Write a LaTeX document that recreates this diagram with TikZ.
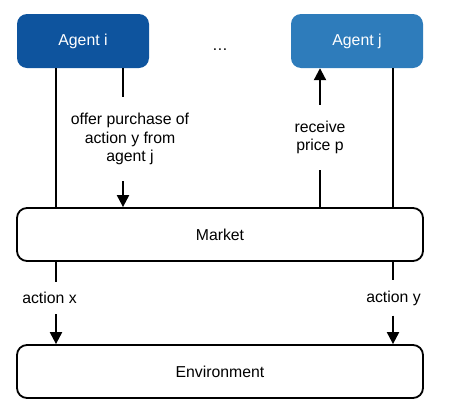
\documentclass[tikz,border=0pt]{standalone}
\usepackage{fontspec}
\setmainfont{Liberation Sans}
\usepackage{tikz}
\usetikzlibrary{arrows.meta,positioning,calc}
\usepackage{xcolor}
\definecolor{deepblue}{RGB}{14,84,158}
\definecolor{skyblue}{RGB}{46,124,187}

\begin{document}
\begin{tikzpicture}[x=1pt,y=-1pt,
        every node/.style={font=\fontsize{15.8}{18.5}\selectfont},
        agentbox/.style={rectangle,rounded corners=10pt,minimum width=132pt,minimum height=54pt,text=white},
        layerbox/.style={rectangle,draw=black,line width=1.8pt,rounded corners=10pt,minimum width=406pt,minimum height=53pt},
        flowlabel/.style={align=center,inner xsep=0pt,inner ysep=16pt},
        link/.style={line width=2.1pt},
        arrowlink/.style={line width=2.1pt,-{Triangle[width=12pt,length=12pt]}}]
        \useasboundingbox (0,0) rectangle (453,418);

        % Agents
        \node[agentbox,fill=deepblue] (agenti) at (83,41) {Agent i};
        \node[agentbox,fill=skyblue] (agentj) at (357,41) {Agent j};
        \node[anchor=base] (dots) at (220,50) {\dots};

        % Market and environment
        \node[layerbox] (market) at (220,234.5) {Market};
        \node[layerbox] (env) at (220,371.5) {Environment};

        % Columns of the links
        \coordinate (colA) at (56,0);
        \coordinate (colB) at (123,0);
        \coordinate (colC) at (320,0);
        \coordinate (colD) at (393,0);

        % Labels
        \node[flowlabel] (offer) at (130,139) {offer purchase of\\action y from\\agent j};
        \node[flowlabel] (price) at (320,137.5) {receive\\price p};
        \node[flowlabel,inner ysep=10pt] (actx) at (49.5,298) {action x};
        \node[flowlabel,inner ysep=10pt] (acty) at (393.5,298) {action y};

        % Agents to market
        \draw[link] (agenti.south -| colA) -- (market.north -| colA);
        \draw[link] (agenti.south -| colB) -- (offer.north -| colB);
        \draw[arrowlink] (offer.south -| colB) -- (market.north -| colB);
        \draw[link] (market.north -| colC) -- (price.south -| colC);
        \draw[arrowlink] (price.north -| colC) -- (agentj.south -| colC);
        \draw[link] (agentj.south -| colD) -- (market.north -| colD);

        % Market to environment
        \draw[link] (market.south -| colA) -- (actx.north -| colA);
        \draw[arrowlink] (actx.south -| colA) -- (env.north -| colA);
        \draw[link] (market.south -| colD) -- (acty.north -| colD);
        \draw[arrowlink] (acty.south -| colD) -- (env.north -| colD);
    \end{tikzpicture}
\end{document}
